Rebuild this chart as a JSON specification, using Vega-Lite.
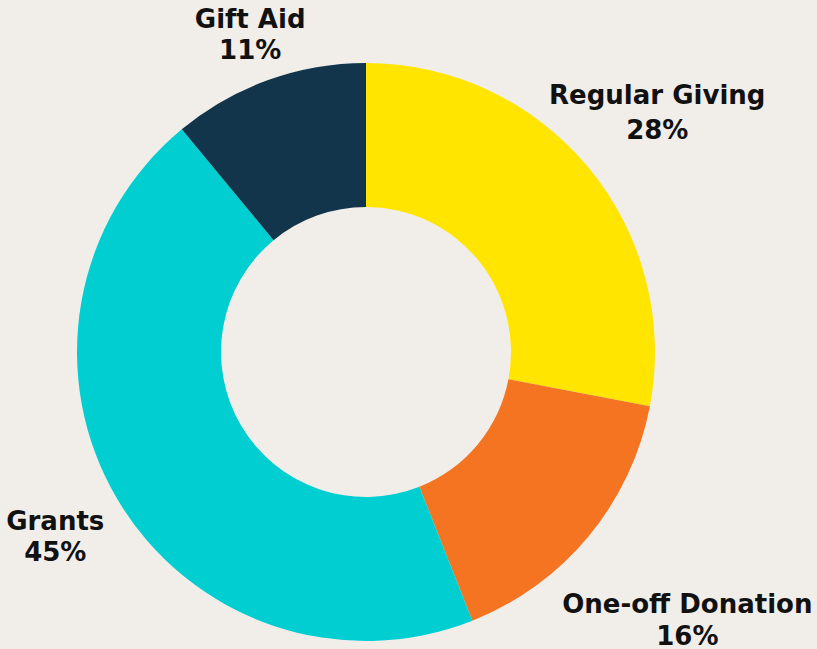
{
  "$schema": "https://vega.github.io/schema/vega-lite/v6.json",
  "width": 732,
  "height": 594,
  "autosize": {"type": "none"},
  "padding": {"left": 0, "top": 55, "right": 85, "bottom": 0},
  "background": "#F1EEEA",
  "config": {"view": {"stroke": null}},
  "data": {
    "values": [
      {"category": "Regular Giving", "value": 28, "idx": 1, "label": "Regular Giving\n28%"},
      {"category": "One-off Donation", "value": 16, "idx": 2, "label": "One-off Donation\n16%"},
      {"category": "Grants", "value": 45, "idx": 3, "label": "Grants\n45%"},
      {"category": "Gift Aid", "value": 11, "idx": 4, "label": "Gift Aid\n11%"}
    ]
  },
  "encoding": {
    "theta": {"field": "value", "type": "quantitative", "stack": true},
    "order": {"field": "idx", "type": "quantitative"}
  },
  "layer": [
    {
      "mark": {"type": "arc", "radius": 289, "innerRadius": 145, "strokeWidth": 0},
      "encoding": {
        "color": {
          "field": "category",
          "type": "nominal",
          "scale": {
            "domain": ["Regular Giving", "One-off Donation", "Grants", "Gift Aid"],
            "range": ["#FFE500", "#F47422", "#00CED1", "#12354B"]
          },
          "legend": null
        }
      }
    },
    {
      "mark": {"type": "text", "radius": 378, "dy": -15, "font": "DejaVu Sans", "fontWeight": "bold", "fontSize": 26, "lineBreak": "\n", "lineHeight": 35, "color": "#111111", "align": "center", "baseline": "middle"},
      "encoding": {
        "text": {"field": "label"},
        "opacity": {"condition": {"test": "datum.category === 'Regular Giving'", "value": 1}, "value": 0}
      }
    },
    {
      "mark": {"type": "text", "radius": 417, "dy": -13, "font": "DejaVu Sans", "fontWeight": "bold", "fontSize": 26, "lineBreak": "\n", "lineHeight": 32, "color": "#111111", "align": "center", "baseline": "middle"},
      "encoding": {
        "text": {"field": "label"},
        "opacity": {"condition": {"test": "datum.category === 'One-off Donation'", "value": 1}, "value": 0}
      }
    },
    {
      "mark": {"type": "text", "radius": 361, "dy": -14, "font": "DejaVu Sans", "fontWeight": "bold", "fontSize": 26, "lineBreak": "\n", "lineHeight": 31, "color": "#111111", "align": "center", "baseline": "middle"},
      "encoding": {
        "text": {"field": "label"},
        "opacity": {"condition": {"test": "datum.category === 'Grants'", "value": 1}, "value": 0}
      }
    },
    {
      "mark": {"type": "text", "radius": 342, "dy": -10, "font": "DejaVu Sans", "fontWeight": "bold", "fontSize": 26, "lineBreak": "\n", "lineHeight": 31, "color": "#111111", "align": "center", "baseline": "middle"},
      "encoding": {
        "text": {"field": "label"},
        "opacity": {"condition": {"test": "datum.category === 'Gift Aid'", "value": 1}, "value": 0}
      }
    }
  ]
}
